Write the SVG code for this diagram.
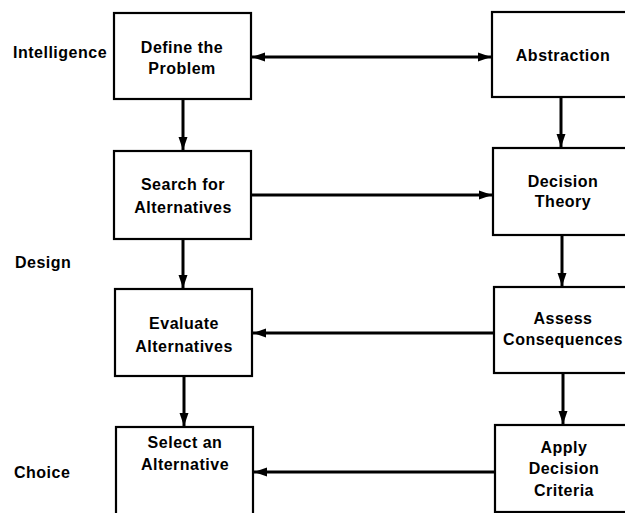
<svg xmlns="http://www.w3.org/2000/svg" width="625" height="513" viewBox="0 0 625 513">
<style>
.box{fill:#fff;stroke:#000;stroke-width:2.2}
.t{font-family:"Liberation Sans",Arial,sans-serif;font-size:16px;font-weight:bold;letter-spacing:0.5px;fill:#000;text-anchor:middle}
.lbl{font-family:"Liberation Sans",Arial,sans-serif;font-size:16px;font-weight:bold;letter-spacing:0.5px;fill:#000}
.c{stroke:#000;stroke-width:3;fill:none}
</style>
<defs>
<marker id="ah" markerUnits="userSpaceOnUse" markerWidth="14" markerHeight="12" refX="13" refY="6" orient="auto-start-reverse">
<path d="M0,1.5 L13,6 L0,10.5 Z" fill="#000"/>
</marker>
</defs>
<rect width="625" height="513" fill="#fff"/>
<g id="phase-labels">
<text class="lbl" x="13" y="58">Intelligence</text>
<text class="lbl" x="15" y="268">Design</text>
<text class="lbl" x="14" y="478">Choice</text>
</g>
<g id="define">
<rect class="box" x="114" y="13" width="137" height="86"/>
<text class="t" x="182" y="53">Define the</text>
<text class="t" x="182" y="74">Problem</text>
</g>
<g id="search">
<rect class="box" x="114" y="151" width="137" height="88"/>
<text class="t" x="183" y="190">Search for</text>
<text class="t" x="183" y="213">Alternatives</text>
</g>
<g id="evaluate">
<rect class="box" x="115" y="289" width="137" height="87"/>
<text class="t" x="184" y="329">Evaluate</text>
<text class="t" x="184" y="352">Alternatives</text>
</g>
<g id="select">
<rect class="box" x="116" y="427" width="137" height="100"/>
<text class="t" x="185" y="448">Select an</text>
<text class="t" x="185" y="470">Alternative</text>
</g>
<g id="abstraction">
<rect class="box" x="492" y="12" width="150" height="85"/>
<text class="t" x="563" y="61">Abstraction</text>
</g>
<g id="decision-theory">
<rect class="box" x="493" y="148" width="150" height="87"/>
<text class="t" x="563" y="187">Decision</text>
<text class="t" x="563" y="207">Theory</text>
</g>
<g id="assess">
<rect class="box" x="494" y="287" width="150" height="86"/>
<text class="t" x="563" y="324">Assess</text>
<text class="t" x="563" y="345">Consequences</text>
</g>
<g id="apply">
<rect class="box" x="495" y="425" width="150" height="87"/>
<text class="t" x="564" y="453">Apply</text>
<text class="t" x="564" y="474">Decision</text>
<text class="t" x="564" y="496">Criteria</text>
</g>
<g id="connectors">
<line class="c" x1="252" y1="57" x2="491" y2="57" marker-start="url(#ah)" marker-end="url(#ah)"/>
<line class="c" x1="252" y1="195" x2="492" y2="195" marker-end="url(#ah)"/>
<line class="c" x1="493" y1="333" x2="253" y2="333" marker-end="url(#ah)"/>
<line class="c" x1="494" y1="472" x2="254" y2="472" marker-end="url(#ah)"/>
<line class="c" x1="183" y1="100" x2="183" y2="150" marker-end="url(#ah)"/>
<line class="c" x1="183" y1="240" x2="183" y2="288" marker-end="url(#ah)"/>
<line class="c" x1="184" y1="377" x2="184" y2="426" marker-end="url(#ah)"/>
<line class="c" x1="561" y1="98" x2="561" y2="147" marker-end="url(#ah)"/>
<line class="c" x1="562" y1="236" x2="562" y2="286" marker-end="url(#ah)"/>
<line class="c" x1="563" y1="374" x2="563" y2="424" marker-end="url(#ah)"/>
</g>
</svg>
